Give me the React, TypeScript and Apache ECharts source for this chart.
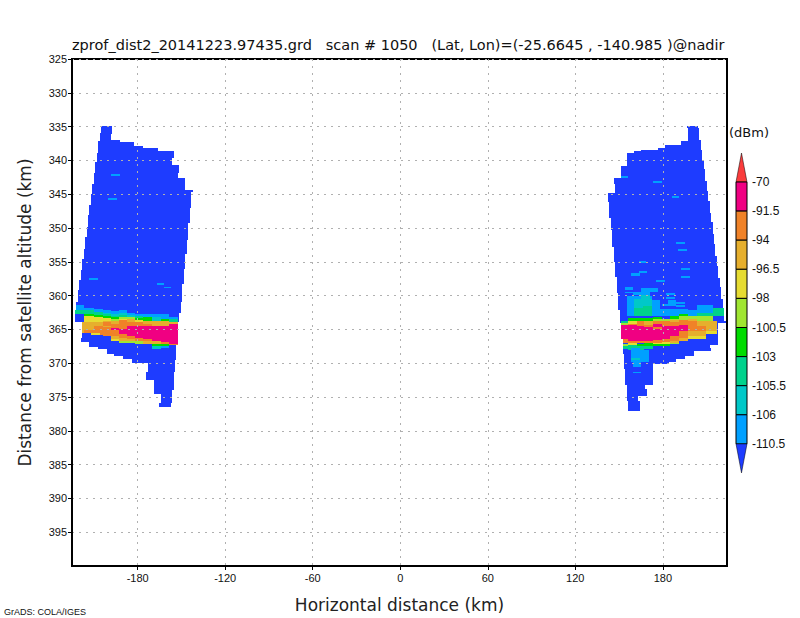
import React, { useEffect, useRef } from "react";
import * as echarts from "echarts";

const titleText = "zprof_dist2_20141223.97435.grd   scan # 1050   (Lat, Lon)=(-25.6645 , -140.985 )@nadir";
const xTicks = [-180, -120, -60, 0, 60, 120, 180];
const yTicks = [325, 330, 335, 340, 345, 350, 355, 360, 365, 370, 375, 380, 385, 390, 395];
const legendLabels = ["-70", "-91.5", "-94", "-96.5", "-98", "-100.5", "-103", "-105.5", "-106", "-110.5"];
const levelColors = ["#1e3cff", "#00a0ff", "#00c8c8", "#00d28c", "#00dc00", "#a0e632", "#e6dc32", "#e6af2d", "#f08228", "#f00082", "#fa3c3c"];

// weakest-level outline of each swath: [distance top, distance bottom, x left, x right]
const leftOutline = [
  [334.86, 335.9, -204.9, -197.3], [335.9, 336.04, -205.5, -197.3], [336.04, 336.93, -205.5, -198],
  [336.93, 337.07, -205.5, -191.8], [337.07, 337.22, -206.9, -191.8], [337.22, 337.81, -206.9, -182.2],
  [337.81, 338.1, -206.9, -176], [338.1, 338.55, -206.9, -165.8], [338.55, 338.84, -206.9, -154.8],
  [338.84, 339.58, -207.6, -154.8], [339.58, 340.31, -207.6, -156.2], [340.31, 340.61, -209, -156.2],
  [340.61, 341.93, -209, -151.4], [341.93, 342.67, -209.7, -152.1], [342.67, 343.55, -209.7, -147.3],
  [343.55, 344.44, -211, -147.3], [344.44, 344.73, -211, -141.8], [344.73, 345.03, -211, -143.1],
  [345.03, 346.65, -211.7, -143.1], [346.65, 347.09, -213.1, -143.1], [347.09, 348.12, -213.1, -143.8],
  [348.12, 349.3, -213.8, -143.8], [349.3, 349.89, -213.8, -145.2], [349.89, 351.36, -214.5, -145.2],
  [351.36, 351.8, -215.8, -145.2], [351.8, 353.13, -215.8, -145.9], [353.13, 353.86, -216.5, -145.9],
  [353.86, 354.6, -216.5, -147.3], [354.6, 356.07, -217.9, -147.3], [356.07, 356.22, -217.9, -147.9],
  [356.22, 357.69, -218.6, -147.9], [357.69, 358.28, -219.9, -147.9], [358.28, 359.16, -219.9, -149.3],
  [359.16, 360.94, -220.6, -149.3], [360.94, 362.41, -222, -150], [362.41, 362.56, -222.7, -150],
  [362.56, 363.88, -222.7, -151.4], [363.88, 365.5, -217.9, -152.1], [365.5, 366.24, -217.9, -152.1],
  [366.24, 366.83, -218.6, -152.1], [366.83, 367.12, -213.1, -152.1], [367.12, 367.57, -213.1, -153.4],
  [367.57, 367.86, -206.9, -153.4], [367.86, 368.6, -200.7, -153.4], [368.6, 368.89, -195.9, -153.4],
  [368.89, 369.33, -189.8, -153.4], [369.33, 369.58, -183.6, -153.4], [369.58, 369.92, -183.6, -154.1],
  [369.92, 371.25, -172.6, -154.1], [371.25, 372.43, -174, -154.8], [372.43, 373.9, -168.5, -154.8],
  [373.9, 374.63, -168.5, -156.2], [374.63, 375.96, -163.7, -156.2], [375.96, 376.55, -165.1, -156.9],
];
const rightOutline = [
  [334.86, 335.16, 196.4, 203.9], [335.16, 336.93, 197, 204.6], [336.93, 337.07, 197, 206],
  [337.07, 337.66, 192.2, 206], [337.66, 338.1, 181.3, 206], [338.1, 338.4, 176.5, 206],
  [338.4, 338.55, 164.8, 206.6], [338.55, 338.84, 160, 206.6], [338.84, 339.87, 155.2, 206.6],
  [339.87, 340.9, 155.2, 208], [340.9, 341.34, 151.1, 208], [341.34, 342.67, 151.1, 208.7],
  [342.67, 343.11, 146.3, 208.7], [343.11, 343.55, 146.3, 210.1], [343.55, 344.58, 147, 210.1],
  [344.58, 344.88, 147, 210.8], [344.88, 346.06, 142.2, 210.8], [346.06, 346.2, 142.2, 212.1],
  [346.2, 347.82, 142.9, 212.1], [347.82, 348.56, 142.9, 212.8], [348.56, 349.15, 144.2, 212.8],
  [349.15, 350.33, 144.2, 214.2], [350.33, 350.92, 144.9, 214.2], [350.92, 352.39, 144.9, 214.9],
  [352.39, 352.83, 144.9, 215.6], [352.83, 354.16, 146.3, 215.6], [354.16, 355.04, 146.3, 216.9],
  [355.04, 355.63, 147, 216.9], [355.63, 357.25, 147, 217.6], [357.25, 357.4, 148.4, 217.6],
  [357.4, 358.72, 148.4, 219], [358.72, 359.6, 148.4, 219.7], [359.6, 360.49, 149, 219.7],
  [360.49, 361.81, 149, 221], [361.81, 362.11, 149, 221.7], [362.11, 363.73, 150.4, 221.7],
  [363.73, 364.02, 150.4, 223.1], [364.02, 366.38, 151.1, 217.6], [366.38, 367.26, 152.5, 217.6],
  [367.26, 367.71, 152.5, 212.1], [367.71, 368.15, 152.5, 212.8], [368.15, 368.59, 152.5, 201.2],
  [368.59, 368.88, 153.2, 201.2], [368.88, 369.32, 153.2, 195], [369.32, 369.77, 153.2, 188.8],
  [369.77, 370.06, 153.2, 184], [370.06, 370.8, 153.2, 173], [370.8, 373.16, 153.8, 173],
  [373.16, 373.89, 155.2, 167.6], [373.89, 374.92, 155.2, 168.9], [374.92, 375.66, 155.2, 162.8],
  [375.66, 377.13, 155.9, 164.1],
];

// stronger returns: [x left, x right, distance top, distance bottom, level]
const leftPatches = [
  [-198, -191.8, 342.08, 342.38, 1], [-200, -193.9, 345.6, 345.9, 1], [-213.1, -206.9, 357.4, 357.7, 1],
  [-166.5, -161.7, 358.13, 358.43, 1], [-161.7, -156.9, 358.72, 358.87, 1],
  [-222, -216.5, 361.38, 362.12, 1], [-222.7, -216.5, 362.12, 362.71, 3],
  [-217.9, -216.5, 363.88, 365.5, 7],
  [-216.5, -209.7, 361.82, 362.12, 1], [-216.5, -209.7, 362.12, 362.71, 3], [-216.5, -209.7, 362.71, 363, 4],
  [-216.5, -209.7, 363, 363.88, 6], [-216.5, -209.7, 363.88, 365.06, 7], [-216.5, -209.7, 365.06, 365.5, 8],
  [-209.7, -203.5, 361.97, 362.41, 1], [-209.7, -203.5, 362.41, 362.85, 3], [-209.7, -203.5, 362.85, 363.15, 4],
  [-209.7, -203.5, 363.15, 363.88, 6], [-209.7, -203.5, 363.88, 364.47, 7], [-209.7, -203.5, 364.47, 365.5, 8],
  [-211.7, -205.5, 365.5, 365.9, 6], [-205.5, -203.5, 365.5, 365.9, 8],
  [-203.5, -198, 362.12, 362.56, 1], [-203.5, -198, 362.56, 362.71, 2], [-203.5, -198, 362.71, 363, 3],
  [-203.5, -198, 363, 363.29, 4], [-203.5, -198, 363.29, 363.74, 6], [-203.5, -198, 363.74, 363.88, 7],
  [-203.5, -198, 363.88, 364.47, 8], [-203.5, -198, 364.47, 364.62, 7], [-203.5, -198, 364.62, 365.95, 8],
  [-198, -192.5, 362.26, 362.71, 1], [-198, -192.5, 362.71, 363, 2], [-198, -192.5, 363, 363.1, 3],
  [-198, -192.5, 363.1, 363.44, 4], [-198, -192.5, 363.44, 363.74, 5], [-198, -192.5, 363.74, 364.18, 7],
  [-198, -192.5, 364.18, 364.77, 8], [-198, -192.5, 364.77, 365.06, 9], [-198, -192.5, 365.06, 365.95, 8],
  [-198, -192.5, 365.95, 366.39, 7], [-198, -192.5, 366.39, 366.68, 6],
  [-192.5, -187, 362.12, 362.56, 1], [-192.5, -187, 362.56, 362.85, 2], [-192.5, -187, 362.85, 363.15, 3],
  [-192.5, -187, 363.15, 363.44, 5], [-192.5, -187, 363.44, 363.59, 6], [-192.5, -187, 363.59, 364.91, 8],
  [-192.5, -187, 364.91, 365.65, 9], [-192.5, -187, 365.65, 366.24, 8], [-192.5, -187, 366.24, 366.68, 7],
  [-192.5, -187, 366.68, 366.98, 5],
  [-187, -181.5, 362.56, 362.85, 1], [-187, -181.5, 362.85, 363.15, 2], [-187, -181.5, 363.15, 363.44, 5],
  [-187, -181.5, 363.44, 363.88, 7], [-187, -181.5, 363.88, 364.47, 8], [-187, -181.5, 364.47, 365.95, 9],
  [-187, -181.5, 365.95, 366.39, 8], [-187, -181.5, 366.39, 366.68, 7], [-187, -181.5, 366.68, 366.98, 5],
  [-181.5, -176, 362.71, 363, 1], [-181.5, -176, 363, 363.29, 3], [-181.5, -176, 363.29, 363.59, 4],
  [-181.5, -176, 363.59, 363.88, 6], [-181.5, -176, 363.88, 364.47, 8], [-181.5, -176, 364.47, 366.24, 9],
  [-181.5, -176, 366.24, 366.68, 8], [-181.5, -176, 366.68, 367.12, 5],
  [-176, -169.9, 362.71, 363.2, 1], [-176, -169.9, 363.2, 363.74, 4], [-176, -169.9, 363.74, 364.18, 7],
  [-176, -169.9, 364.18, 364.47, 8], [-176, -169.9, 364.47, 366.39, 9], [-176, -169.9, 366.39, 366.68, 8],
  [-176, -169.9, 366.68, 367.12, 7],
  [-169.9, -163.7, 362.71, 363.15, 1], [-169.9, -163.7, 363.15, 363.74, 2], [-169.9, -163.7, 363.74, 364.47, 7],
  [-169.9, -163.7, 364.47, 366.68, 9], [-169.9, -163.7, 366.68, 367.12, 7], [-169.9, -163.7, 367.12, 367.42, 4],
  [-169.9, -163.7, 367.42, 367.86, 2],
  [-163.7, -158.2, 362.71, 363.44, 1], [-163.7, -158.2, 363.44, 363.74, 4], [-163.7, -158.2, 363.74, 364.47, 7],
  [-163.7, -158.2, 364.47, 366.83, 9], [-163.7, -158.2, 366.83, 367.12, 8], [-163.7, -158.2, 367.12, 367.42, 4],
  [-163.7, -158.2, 367.42, 367.71, 1],
  [-158.2, -152.1, 363.1, 363.44, 1], [-158.2, -152.1, 363.44, 363.88, 3], [-158.2, -152.1, 363.88, 364.18, 7],
  [-158.2, -152.1, 364.18, 367.12, 9], [-158.2, -152.1, 367.12, 367.27, 8],
];
const rightPatches = [
  [151.1, 155.9, 342.38, 342.67, 1], [173, 179.2, 343.11, 343.4, 1], [186, 190.9, 345.32, 345.61, 1],
  [188.8, 195, 352.1, 352.39, 1], [190.2, 196.4, 353.13, 353.42, 1], [163.4, 168.2, 354.9, 355.19, 1],
  [192.2, 198.4, 355.92, 356.22, 1], [163.4, 168.9, 356.37, 356.66, 1], [158, 164.1, 356.66, 357.1, 1],
  [192.2, 198.4, 357.1, 357.4, 1], [175.1, 181.3, 357.69, 357.99, 1], [153.8, 159.3, 358.72, 359.16, 1],
  [153.8, 159.3, 359.46, 359.6, 1], [164.8, 176.5, 358.87, 359.46, 1], [159.3, 171, 359.46, 359.9, 1],
  [182, 188.1, 359.6, 359.9, 1], [182, 188.1, 360.2, 360.49, 1], [183.3, 188.8, 360.64, 361.5, 1],
  [179.2, 183.3, 361.22, 361.5, 1], [188.8, 195, 360.93, 361.22, 1], [188.8, 195, 361.37, 361.66, 1],
  [155.2, 172.4, 360.05, 362.99, 1], [172.4, 177.8, 360.64, 362.99, 1], [177.8, 197, 361.96, 362.99, 1],
  [197, 203.2, 362.11, 362.99, 1], [203.2, 214.2, 361.37, 362.99, 1], [214.2, 221.7, 361.81, 362.99, 3],
  [203.2, 214.2, 362.6, 362.99, 3], [164.8, 171, 359.9, 360.49, 2], [160, 172.4, 360.49, 361.81, 2],
  [160, 166.2, 361.81, 362.99, 3], [166.2, 172.4, 361.5, 362.99, 3],
  [151.1, 155.9, 363.73, 364.02, 3], [151.1, 155.9, 364.02, 364.32, 5], [151.1, 155.9, 364.32, 366.38, 9],
  [152.5, 155.9, 366.38, 366.97, 8], [152.5, 155.9, 367.12, 367.41, 5], [152.5, 155.9, 367.41, 367.85, 3],
  [155.9, 162.1, 363.29, 363.73, 4], [155.9, 162.1, 363.73, 364.17, 6], [155.9, 162.1, 364.17, 364.32, 8],
  [155.9, 162.1, 364.32, 366.67, 9], [155.9, 162.1, 366.67, 366.97, 8], [155.9, 162.1, 366.97, 367.26, 6],
  [155.9, 162.1, 367.26, 368, 3],
  [162.1, 166.9, 363.29, 363.73, 4], [162.1, 166.9, 363.73, 364.47, 8], [162.1, 166.9, 364.47, 366.67, 9],
  [162.1, 166.9, 366.67, 366.97, 8], [162.1, 166.9, 367.12, 367.41, 4], [162.1, 166.9, 367.41, 368, 3],
  [166.9, 173, 363.29, 363.73, 4], [166.9, 173, 363.73, 364.32, 7], [166.9, 173, 364.32, 364.61, 8],
  [166.9, 173, 364.61, 366.67, 9], [166.9, 173, 366.67, 366.97, 8], [166.9, 173, 366.97, 367.41, 4],
  [166.9, 173, 367.41, 367.85, 3],
  [173, 179.2, 363.14, 363.43, 4], [173, 179.2, 363.43, 363.73, 5], [173, 179.2, 363.73, 364.17, 8],
  [173, 179.2, 364.17, 364.61, 9], [173, 179.2, 364.61, 364.91, 8], [173, 179.2, 364.91, 366.53, 9],
  [173, 179.2, 366.53, 366.97, 8], [173, 179.2, 366.97, 367.12, 6], [173, 179.2, 367.12, 367.41, 4],
  [179.2, 184.7, 363.43, 363.73, 5], [179.2, 184.7, 363.73, 364.47, 8], [179.2, 184.7, 364.47, 366.38, 9],
  [179.2, 184.7, 366.38, 366.82, 8], [179.2, 184.7, 366.82, 367.12, 6], [179.2, 184.7, 367.12, 367.41, 4],
  [184.7, 190.9, 362.99, 363.43, 4], [184.7, 190.9, 363.43, 363.58, 5], [184.7, 190.9, 363.58, 363.88, 7],
  [184.7, 190.9, 363.88, 364.47, 8], [184.7, 190.9, 364.47, 365.94, 9], [184.7, 190.9, 365.94, 366.67, 8],
  [184.7, 190.9, 366.67, 366.97, 7], [184.7, 190.9, 366.97, 367.12, 5],
  [190.9, 197, 362.7, 362.99, 4], [190.9, 197, 362.99, 363.58, 5], [190.9, 197, 363.58, 364.32, 8],
  [190.9, 197, 364.32, 365.2, 9], [190.9, 197, 365.2, 366.23, 8], [190.9, 197, 366.23, 366.67, 7],
  [197, 203.2, 362.99, 363.43, 5], [197, 203.2, 363.43, 363.73, 7], [197, 203.2, 363.73, 365.2, 8],
  [197, 203.2, 365.2, 365.94, 7], [197, 203.2, 365.94, 366.38, 6],
  [203.2, 209.4, 362.99, 363.73, 5], [203.2, 209.4, 363.73, 364.47, 7], [203.2, 209.4, 364.47, 365.2, 8],
  [203.2, 209.4, 365.2, 365.94, 7], [203.2, 209.4, 365.94, 366.38, 6],
  [209.4, 214.2, 362.99, 363.73, 5], [209.4, 216.9, 363.73, 365.2, 7], [209.4, 216.9, 365.2, 365.64, 6],
  [158, 164.1, 367.7, 369.77, 1], [163.4, 170.3, 368, 369.77, 1], [158, 164.1, 369.18, 369.47, 2],
  [159.3, 164.8, 369.77, 370.5, 1], [159.3, 164.8, 371.24, 371.39, 1],
];

const App = () => {
  const ref = useRef<HTMLDivElement>(null);
  useEffect(() => {
    const chart = echarts.init(ref.current, null, { renderer: "svg" });
    const renderCell = (_: any, api: any) => {
      const a = api.coord([api.value(0), api.value(2)]);
      const b = api.coord([api.value(1), api.value(3)]);
      const x = Math.round(a[0]);
      const y = Math.round(a[1]);
      return {
        type: "rect",
        shape: { x, y, width: Math.max(1, Math.round(b[0]) - x), height: Math.max(1, Math.round(b[1]) - y) },
        style: { fill: levelColors[api.value(4)] },
      };
    };
    const outlineCells = (rows: number[][]) => rows.map(([d0, d1, x0, x1]) => [x0, x1, d0, d1, 0]);
    const cellSeries = (name: string, data: number[][]) => ({
      name,
      type: "custom",
      coordinateSystem: "cartesian2d",
      renderItem: renderCell,
      encode: { x: [0, 1], y: [2, 3] },
      data,
      z: 1,
      silent: true,
    });
    const thinFont = "'DejaVu Sans ExtraLight', 'DejaVu Sans'";
    const axisText = { color: "#111", fontFamily: "Liberation Sans", fontSize: 11 };
    const grid = { type: [2, 5], color: "#b0b0b0", width: 1 };
    const barLeft = 736;
    const barRight = 747;
    const barCentre = 741.5;
    const barTop = 182;
    const barStep = 29.1;
    const cells = legendLabels.map((_, i) => ({
      type: "rect",
      shape: { x: barLeft, y: barTop + i * barStep, width: barRight - barLeft, height: barStep },
      style: { fill: i < 9 ? levelColors[9 - i] : levelColors[1], stroke: "#000", lineWidth: 1 },
    })).slice(0, 9);
    const labels = legendLabels.map((t, i) => ({
      type: "text",
      x: 752,
      y: barTop + i * barStep,
      style: { text: t, fill: "#111", font: "12px 'Liberation Sans'", align: "left", verticalAlign: "middle" },
    }));
    chart.setOption({
      animation: false,
      backgroundColor: "#fff",
      title: {
        text: titleText,
        left: 67,
        top: 32,
        textStyle: { fontFamily: thinFont, fontWeight: "normal", fontSize: 14.5, color: "#111" },
      },
      grid: { left: 72, top: 59, width: 655, height: 509, show: true, borderColor: "#000", borderWidth: 2, containLabel: false },
      xAxis: {
        type: "value",
        min: -225,
        max: 224,
        name: "Horizontal distance (km)",
        nameLocation: "middle",
        nameGap: 30,
        nameTextStyle: { fontFamily: thinFont, fontSize: 17, color: "#222" },
        axisLine: { onZero: false, lineStyle: { color: "#000", width: 2 } },
        axisTick: { customValues: xTicks, length: 4, lineStyle: { color: "#000" } },
        axisLabel: { ...axisText, customValues: xTicks, margin: 6 },
        splitLine: { show: true, lineStyle: grid },
        z: 5,
      },
      yAxis: {
        type: "value",
        inverse: true,
        min: 325,
        max: 400,
        name: "Distance from satellite altitude (km)",
        nameLocation: "middle",
        nameGap: 22,
        nameTextStyle: { fontFamily: thinFont, fontSize: 17, color: "#222", padding: [0, 0, 17, 0] },
        axisLine: { onZero: false, lineStyle: { color: "#000", width: 2 } },
        axisTick: { customValues: yTicks, length: 4, lineStyle: { color: "#000" } },
        axisLabel: { ...axisText, customValues: yTicks, margin: 5 },
        splitLine: { show: true, lineStyle: grid },
        z: 5,
      },
      series: [
        cellSeries("left swath", [...outlineCells(leftOutline), ...leftPatches]),
        cellSeries("right swath", [...outlineCells(rightOutline), ...rightPatches]),
      ],
      graphic: [
        { type: "polygon", shape: { points: [[barLeft, barTop], [barRight, barTop], [barCentre, barTop - 29]] }, style: { fill: levelColors[10], stroke: "#000", lineWidth: 0.5 } },
        ...cells,
        { type: "polygon", shape: { points: [[barLeft, barTop + 9 * barStep], [barRight, barTop + 9 * barStep], [barCentre, barTop + 9 * barStep + 29]] }, style: { fill: levelColors[0], stroke: "#000", lineWidth: 0.5 } },
        ...labels,
        { type: "text", x: 729, y: 132, style: { text: "(dBm)", fill: "#111", font: "13px " + thinFont, align: "left", verticalAlign: "middle" } },
        { type: "text", x: 4, y: 612, style: { text: "GrADS: COLA/IGES", fill: "#111", font: "9px 'Liberation Sans'", align: "left", verticalAlign: "middle" } },
      ],
    });
    return () => chart.dispose();
  }, []);
  return <div ref={ref} style={{ position: "fixed", left: 0, top: 0, width: 800, height: 618 }} />;
};

export default App;
